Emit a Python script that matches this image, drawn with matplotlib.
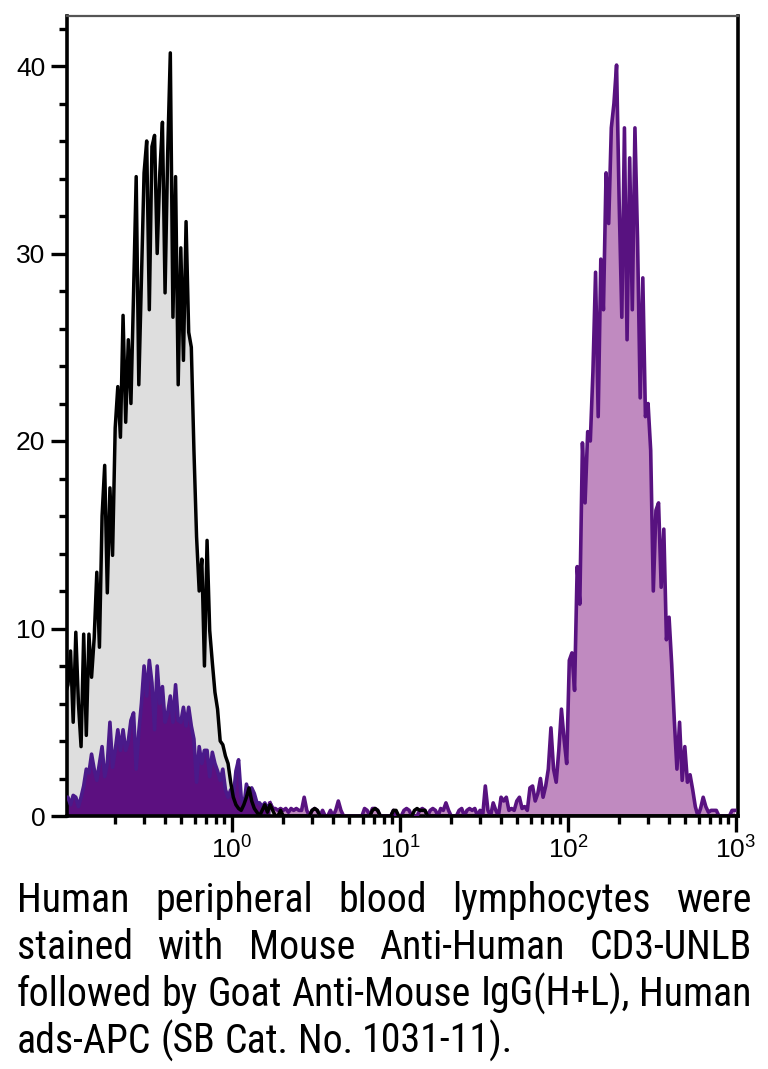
import numpy as np
import matplotlib
matplotlib.use("Agg")
import matplotlib.pyplot as plt
from matplotlib import font_manager
from matplotlib.ticker import MultipleLocator, LogLocator, NullFormatter, LogFormatterMathtext

# channel grid: 64 channels per decade, from 10^-1 to 10^3
channels_per_decade = 64
first_decade = -1

# isotype control (grey fill, black outline), counts per channel
isotype = [
    6.5, 7.0, 8.8, 5.0, 9.8, 6.0, 3.7, 9.7, 4.3, 9.7,
    7.4, 9.5, 13.0, 9.0, 16.0, 18.7, 11.9, 17.5, 13.9, 20.7,
    22.9, 20.2, 26.7, 21.0, 25.4, 22.0, 27.9, 34.1, 23.0, 28.7,
    34.3, 36.0, 27.0, 35.7, 36.3, 30.0, 34.3, 37.0, 27.9, 35.4,
    40.7, 26.6, 34.1, 23.0, 30.3, 24.3, 31.7, 25.8, 25.0, 19.5,
    14.9, 12.0, 13.7, 8.0, 14.7, 9.9, 8.2, 6.6, 5.7, 4.0,
    3.8, 3.2, 2.8, 1.8, 1.0, 0.6, 0.4, 0.3, 0.6, 1.0,
    1.5, 0.8, 0.4, 0.2, 0.0, 0.3, 0.6, 0.2, 0.6, 0.3,
    0.0, 0.0, 0.3, 0.0, 0.0, 0.0, 0.0, 0.0, 0.0, 0.0,
    0.0, 0.0, 0.0, 0.0, 0.3, 0.4, 0.3, 0.0, 0.0, 0.0,
    0.0, 0.0, 0.0, 0.0, 0.0, 0.0, 0.0, 0.0, 0.0, 0.0,
    0.0, 0.0, 0.0, 0.0, 0.0, 0.0, 0.0, 0.3, 0.4, 0.3,
    0.0, 0.0, 0.0, 0.0, 0.0, 0.3, 0.3, 0.0, 0.0, 0.0,
    0.0, 0.0, 0.0, 0.3, 0.4, 0.3, 0.3, 0.3, 0.0, 0.0,
    0.0, 0.0, 0.0, 0.0, 0.0, 0.0, 0.0, 0.0, 0.0, 0.0,
    0.0, 0.0, 0.0, 0.0, 0.0, 0.0, 0.0, 0.0, 0.0, 0.0,
    0.0, 0.0, 0.0, 0.0, 0.0, 0.0, 0.0, 0.0, 0.0, 0.0,
    0.0, 0.0, 0.0, 0.0, 0.0, 0.0, 0.0, 0.0, 0.0, 0.0,
    0.0, 0.0, 0.0, 0.0, 0.0, 0.0, 0.0, 0.0, 0.0, 0.0,
    0.0, 0.0, 0.0, 0.0, 0.0, 0.0, 0.0, 0.0, 0.0, 0.0,
    0.0, 0.0, 0.0, 0.0, 0.0, 0.0, 0.0, 0.0, 0.0, 0.0,
    0.0, 0.0, 0.0, 0.0, 0.0, 0.0, 0.0, 0.0, 0.0, 0.0,
    0.0, 0.0, 0.0, 0.0, 0.0, 0.0, 0.0, 0.0, 0.0, 0.0,
    0.0, 0.0, 0.0, 0.0, 0.0, 0.0, 0.0, 0.0, 0.0, 0.0,
    0.0, 0.0, 0.0, 0.0, 0.0, 0.0, 0.0, 0.0, 0.0, 0.0,
    0.0, 0.0, 0.0, 0.0, 0.0, 0.0,
]

# CD3 stained sample (purple), counts per channel
cd3 = [
    1.0, 1.0, 0.6, 1.1, 1.0, 0.5, 1.0, 1.6, 2.5, 2.3,
    3.3, 2.5, 1.9, 2.8, 3.7, 2.1, 2.8, 5.0, 2.6, 3.5,
    4.6, 3.5, 4.6, 3.5, 4.0, 5.1, 5.5, 2.5, 4.5, 6.0,
    8.0, 6.4, 8.3, 7.1, 4.6, 8.0, 6.0, 6.9, 5.0, 5.5,
    6.4, 5.0, 7.0, 5.1, 5.0, 5.8, 4.8, 5.8, 4.8, 4.1,
    1.8, 3.7, 2.8, 3.5, 3.5, 2.1, 3.4, 2.8, 2.4, 1.9,
    2.5, 1.4, 1.0, 1.4, 1.0, 2.4, 3.0, 1.0, 0.5, 1.7,
    1.2, 1.5, 1.2, 0.7, 0.7, 0.5, 0.7, 0.4, 0.7, 0.4,
    0.4, 0.3, 0.4, 0.3, 0.4, 0.2, 0.4, 0.3, 0.4, 0.3,
    0.3, 1.0, 0.3, 0.0, 0.3, 0.4, 0.3, 0.0, 0.3, 0.0,
    0.0, 0.3, 0.0, 0.3, 0.8, 0.3, 0.0, 0.0, 0.0, 0.0,
    0.0, 0.0, 0.0, 0.0, 0.4, 0.3, 0.0, 0.4, 0.4, 0.3,
    0.0, 0.0, 0.0, 0.0, 0.0, 0.3, 0.0, 0.0, 0.0, 0.3,
    0.4, 0.3, 0.0, 0.0, 0.0, 0.3, 0.4, 0.3, 0.0, 0.3,
    0.4, 0.3, 0.0, 0.4, 0.3, 0.7, 0.3, 0.0, 0.0, 0.0,
    0.3, 0.4, 0.0, 0.3, 0.4, 0.3, 0.4, 0.0, 0.3, 0.0,
    1.6, 0.3, 0.0, 0.7, 0.3, 0.0, 1.0, 0.8, 1.0, 0.3,
    0.4, 0.3, 0.8, 1.0, 0.4, 0.5, 0.3, 1.5, 1.6, 0.8,
    1.2, 2.0, 1.0, 1.6, 2.5, 4.7, 2.5, 1.8, 3.5, 5.7,
    4.1, 2.8, 8.3, 8.7, 6.7, 13.3, 11.3, 19.9, 16.7, 20.5,
    20.0, 23.7, 29.0, 21.3, 29.7, 27.0, 34.3, 31.6, 36.7, 38.0,
    40.05, 32.7, 26.6, 36.7, 25.4, 35.1, 27.0, 36.7, 30.7, 22.3,
    28.7, 21.3, 22.0, 19.5, 12.0, 16.3, 16.7, 12.2, 15.3, 9.4,
    10.6, 8.1, 5.1, 2.5, 5.0, 1.9, 3.7, 1.8, 2.2, 1.4,
    0.5, 0.0, 0.4, 1.0, 0.5, 0.2, 0.3, 0.3, 0.3, 0.0,
    0.0, 0.0, 0.0, 0.0, 0.3, 0.3,
]

caption_lines = [
    "Human peripheral blood lymphocytes were",
    "stained with Mouse Anti-Human CD3-UNLB",
    "followed by Goat Anti-Mouse IgG(H+L), Human",
    "ads-APC (SB Cat. No. 1031-11).",
]


def pick_family(names):
    for n in names:
        try:
            font_manager.findfont(font_manager.FontProperties(family=n),
                                  fallback_to_default=False)
            return n
        except ValueError:
            pass
    return "DejaVu Sans"


tick_family = pick_family(["Liberation Sans", "DejaVu Sans"])
cap_family = pick_family(["Liberation Sans Narrow", "Roboto Condensed", "Noto Sans"])

plt.rcParams["font.family"] = [tick_family, "DejaVu Sans"]
plt.rcParams["mathtext.fontset"] = "custom"
plt.rcParams["mathtext.rm"] = tick_family
plt.rcParams["mathtext.it"] = tick_family
plt.rcParams["mathtext.bf"] = tick_family

n = len(isotype)
x = 10 ** (first_decade + (np.arange(n) + 0.5) / channels_per_decade)
iso = np.array(isotype)
pos = np.array(cd3)
low = np.arange(n) <= 78

fig = plt.figure(figsize=(7.68, 10.69), dpi=100)
ax = fig.add_axes([67 / 768, 253 / 1069, 671 / 768, 800 / 1069])

ax.fill_between(x, 0, iso, color="#dedede", lw=0, zorder=1)
ax.fill_between(x, 0, pos, where=low, color="#5c1080", lw=0, zorder=2)
ax.fill_between(x, 0, pos, where=~low, color="#c08ac0", lw=0, zorder=2)
ax.plot(x[:80], pos[:80], color="#4a1a8a", lw=2.6, zorder=3)
ax.plot(x[78:], pos[78:], color="#581280", lw=2.6, zorder=3)
ax.plot(x, iso, color="black", lw=2.5, zorder=4)

ax.set_xscale("log")
ax.set_xlim(10 ** (-165 / 168), 10 ** (506 / 168))
ax.set_ylim(0, 800 / 18.75)

ax.xaxis.set_major_locator(LogLocator(base=10))
ax.xaxis.set_minor_locator(LogLocator(base=10, subs=np.arange(2, 10)))
ax.xaxis.set_major_formatter(LogFormatterMathtext())
ax.xaxis.set_minor_formatter(NullFormatter())
ax.yaxis.set_major_locator(MultipleLocator(10))
ax.yaxis.set_minor_locator(MultipleLocator(2))

ax.tick_params(which="major", length=11.5, width=2.4, labelsize=19, pad=4)
ax.tick_params(which="minor", length=5.5, width=2.4)
ax.tick_params(axis="x", which="major", pad=3)

for side in ["left", "bottom", "right"]:
    ax.spines[side].set_linewidth(2.6)
    ax.spines[side].set_color("black")
ax.spines["top"].set_linewidth(1.6)
ax.spines["top"].set_color("#555555")

# justified caption
fig.canvas.draw()
r = fig.canvas.get_renderer()
W, H = fig.bbox.width, fig.bbox.height
left_px, right_px = 17, 752
baselines = [912, 959, 1006, 1053]


def widths(words, size):
    out = []
    for w in words:
        t = fig.text(0, 0, w, fontsize=size, family=cap_family)
        out.append(t.get_window_extent(r).width)
        t.remove()
    return out


def space_width(size):
    a = widths(["a a", "aa"], size)
    return a[0] - a[1]


size = 32.0
while size > 10:
    words = caption_lines[2].split()
    natural = sum(widths(words, size)) + space_width(size) * (len(words) - 1)
    if natural <= right_px - left_px:
        break
    size -= 0.25

sp = space_width(size)
for k, line in enumerate(caption_lines):
    words = line.split()
    ws = widths(words, size)
    if k < len(caption_lines) - 1:
        gap = (right_px - left_px - sum(ws)) / (len(words) - 1)
    else:
        gap = sp
    xp = left_px
    for w, wd in zip(words, ws):
        fig.text(xp / W, 1 - baselines[k] / H, w, fontsize=size,
                 family=cap_family, va="baseline", ha="left")
        xp += wd + gap

fig.savefig("out.png", dpi=100)
